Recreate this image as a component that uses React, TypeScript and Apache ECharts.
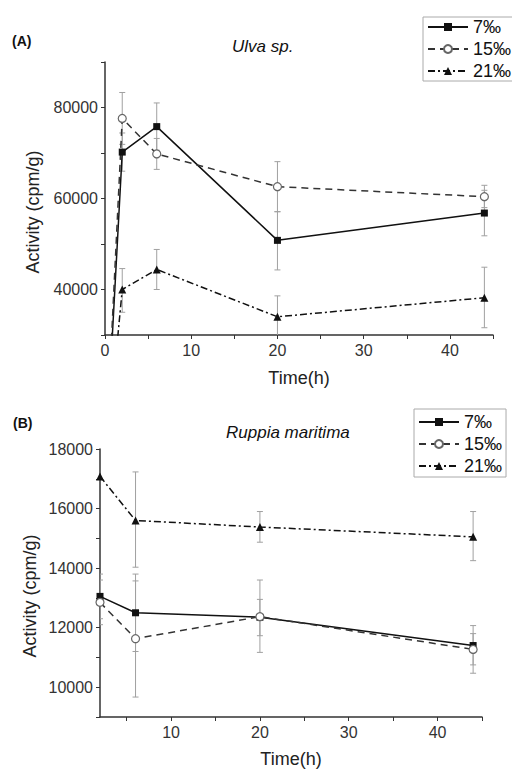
import React, { useEffect, useRef } from "react";
import * as echarts from "echarts";

// ---- Panel A: Ulva sp. ----
const timesA = [0, 2, 6, 20, 44];
const ulva7 = [0, 70200, 75800, 50800, 56800];
const ulva15 = [0, 77600, 69800, 62600, 60400];
const ulva21 = [0, 40000, 44400, 34000, 38200];
const errTimesA = [2, 6, 20, 44];
const ulva7Low = [66000, 70600, 44300, 51800];
const ulva7High = [74400, 81000, 57100, 61800];
const ulva15Low = [71900, 66400, 57100, 58000];
const ulva15High = [83300, 73200, 68100, 62900];
const ulva21Low = [35000, 40000, 29400, 31600];
const ulva21High = [44600, 48800, 38600, 44900];

// ---- Panel B: Ruppia maritima ----
const timesB = [2, 6, 20, 44];
const rup7 = [13050, 12500, 12350, 11400];
const rup15 = [12850, 11630, 12370, 11270];
const rup21 = [17080, 15600, 15380, 15050];
const rup7Low = [12300, 11200, 11730, 10750];
const rup7High = [13800, 13800, 12950, 12070];
const rup15Low = [12100, 9670, 11170, 10470];
const rup15High = [13600, 13570, 13600, 11800];
const rup21Low = [17080, 14030, 14870, 14250];
const rup21High = [17080, 17230, 15900, 15900];

const seriesNames = ["7‰", "15‰", "21‰"];
const yTicksA = [40000, 60000, 80000];
const yTicksB = [10000, 12000, 14000, 16000, 18000];
const xTicksA = [0, 10, 20, 30, 40];
const xTicksB = [10, 20, 30, 40];

const FONT = "'Liberation Sans', Arial, sans-serif";
const AXIS_COLOR = "#333";
const ERR_COLOR = "#a0a0a0";

function pairs(xs: number[], ys: number[], hideFirst = false) {
  return xs.map((x, i) =>
    hideFirst && i === 0 ? { value: [x, ys[i]], symbol: "none" } : [x, ys[i]]
  );
}

function errData(xs: number[], lo: number[], hi: number[]) {
  return xs.map((x, i) => [x, lo[i], hi[i]]);
}

const errRender = (params: any, api: any) => {
  const x = api.value(0);
  const lo = api.coord([x, api.value(1)]);
  const hi = api.coord([x, api.value(2)]);
  if (Math.abs(hi[1] - lo[1]) < 0.5) return null;
  const w = 3;
  const style = { stroke: ERR_COLOR, lineWidth: 1 };
  return {
    type: "group",
    children: [
      { type: "line", shape: { x1: lo[0], y1: lo[1], x2: hi[0], y2: hi[1] }, style },
      { type: "line", shape: { x1: hi[0] - w, y1: hi[1], x2: hi[0] + w, y2: hi[1] }, style },
      { type: "line", shape: { x1: lo[0] - w, y1: lo[1], x2: lo[0] + w, y2: lo[1] }, style },
    ],
  };
};

const lineStyles = [
  { type: "solid" as any, symbol: "rect", symbolSize: 7, color: "#111", border: "#111", bw: 0, line: "#111" },
  { type: [7, 5] as any, symbol: "circle", symbolSize: 8, color: "#fff", border: "#666", bw: 1.2, line: "#333" },
  { type: [7, 3, 2, 3] as any, symbol: "triangle", symbolSize: 8, color: "#111", border: "#111", bw: 0, line: "#111" },
];

function lineSeries(name: string, idx: number, data: any[], axis: number) {
  const s = lineStyles[idx];
  return {
    name,
    type: "line",
    xAxisIndex: axis,
    yAxisIndex: axis,
    data,
    clip: true,
    symbol: s.symbol,
    symbolSize: s.symbolSize,
    lineStyle: { color: s.line, width: 1.5, type: s.type },
    itemStyle: { color: s.color, borderColor: s.border, borderWidth: s.bw },
    z: 3,
  };
}

function errSeries(data: any[], axis: number) {
  return {
    type: "custom",
    xAxisIndex: axis,
    yAxisIndex: axis,
    data,
    clip: true,
    renderItem: errRender,
    encode: { x: 0, y: [1, 2] },
    silent: true,
    z: 1,
  };
}

export default function App() {
  const ref = useRef<HTMLDivElement>(null);
  useEffect(() => {
    if (!ref.current) return;
    const chart = echarts.init(ref.current, undefined, { renderer: "svg" });
    const axisLine = { lineStyle: { color: AXIS_COLOR, width: 1.5 } };
    const axisLabel = { color: "#333", fontSize: 16, fontFamily: FONT };
    const nameStyle = { color: "#222", fontSize: 18, fontFamily: FONT };
    const legendBase = {
      orient: "vertical",
      data: seriesNames,
      borderColor: "#aaa",
      borderWidth: 1,
      itemWidth: 40,
      itemHeight: 10,
      itemGap: 4,
      textStyle: { color: "#111", fontSize: 18, lineHeight: 18, fontFamily: FONT },
      selectedMode: false,
    };
    chart.setOption({
      animation: false,
      backgroundColor: "#fff",
      textStyle: { fontFamily: FONT },
      grid: [
        { left: 105, right: 19, top: 62, height: 273 },
        { left: 100, right: 30, top: 449, height: 271 },
      ],
      legend: [
        { ...legendBase, left: 423, top: 17, padding: [1, 3, 1, 4] },
        { ...legendBase, left: 414, top: 409, padding: [4, 4, 2, 4] },
      ],
      xAxis: [
        {
          type: "value",
          gridIndex: 0,
          min: 0,
          max: 45,
          interval: 5,
          splitLine: { show: false },
          axisLine,
          axisTick: { lineStyle: { color: AXIS_COLOR }, length: 4 },
          axisLabel: { ...axisLabel, margin: 7, formatter: (v: number) => (xTicksA.includes(v) ? String(v) : "") },
          name: "Time(h)",
          nameLocation: "middle",
          nameGap: 34,
          nameTextStyle: nameStyle,
        },
        {
          type: "value",
          gridIndex: 1,
          min: 2,
          max: 45,
          splitLine: { show: false },
          axisLine,
          axisTick: { lineStyle: { color: AXIS_COLOR }, length: 4, customValues: [5, 10, 15, 20, 25, 30, 35, 40, 45] },
          axisLabel: { ...axisLabel, margin: 7, customValues: xTicksB },
          name: "Time(h)",
          nameLocation: "middle",
          nameGap: 33,
          nameTextStyle: nameStyle,
        },
      ],
      yAxis: [
        {
          type: "value",
          gridIndex: 0,
          min: 30000,
          max: 90000,
          interval: 10000,
          splitLine: { show: false },
          axisLine,
          axisTick: { lineStyle: { color: AXIS_COLOR }, length: 4 },
          axisLabel: { ...axisLabel, margin: 7, formatter: (v: number) => (yTicksA.includes(v) ? String(v) : "") },
        },
        {
          type: "value",
          gridIndex: 1,
          min: 9000,
          max: 18000,
          interval: 1000,
          splitLine: { show: false },
          axisLine,
          axisTick: { lineStyle: { color: AXIS_COLOR }, length: 4 },
          axisLabel: { ...axisLabel, margin: 7, formatter: (v: number) => (yTicksB.includes(v) ? String(v) : "") },
        },
      ],
      graphic: [
        { type: "text", left: 12, top: 34, style: { text: "(A)", font: `bold 14px ${FONT}`, fill: "#111" } },
        { type: "text", left: 232, top: 38, style: { text: "Ulva sp.", font: `italic 17px ${FONT}`, fill: "#111" } },
        { type: "text", left: 13, top: 416, style: { text: "(B)", font: `bold 14px ${FONT}`, fill: "#111" } },
        { type: "text", left: 226, top: 424, style: { text: "Ruppia maritima", font: `italic 17px ${FONT}`, fill: "#111" } },
        {
          type: "text", x: 33, y: 212, rotation: Math.PI / 2,
          style: { text: "Activity (cpm/g)", font: `18px ${FONT}`, fill: "#222", align: "center", verticalAlign: "middle" },
        },
        {
          type: "text", x: 30, y: 596, rotation: Math.PI / 2,
          style: { text: "Activity (cpm/g)", font: `18px ${FONT}`, fill: "#222", align: "center", verticalAlign: "middle" },
        },
      ],
      series: [
        errSeries(errData(errTimesA, ulva7Low, ulva7High), 0),
        errSeries(errData(errTimesA, ulva15Low, ulva15High), 0),
        errSeries(errData(errTimesA, ulva21Low, ulva21High), 0),
        lineSeries(seriesNames[0], 0, pairs(timesA, ulva7, true), 0),
        lineSeries(seriesNames[1], 1, pairs(timesA, ulva15, true), 0),
        lineSeries(seriesNames[2], 2, pairs(timesA, ulva21, true), 0),
        errSeries(errData(timesB, rup7Low, rup7High), 1),
        errSeries(errData(timesB, rup15Low, rup15High), 1),
        errSeries(errData(timesB, rup21Low, rup21High), 1),
        lineSeries(seriesNames[0], 0, pairs(timesB, rup7), 1),
        lineSeries(seriesNames[1], 1, pairs(timesB, rup15), 1),
        lineSeries(seriesNames[2], 2, pairs(timesB, rup21), 1),
      ],
    });
    return () => chart.dispose();
  }, []);
  return <div ref={ref} style={{ position: "fixed", left: 0, top: 0, width: 512, height: 769 }} />;
}
